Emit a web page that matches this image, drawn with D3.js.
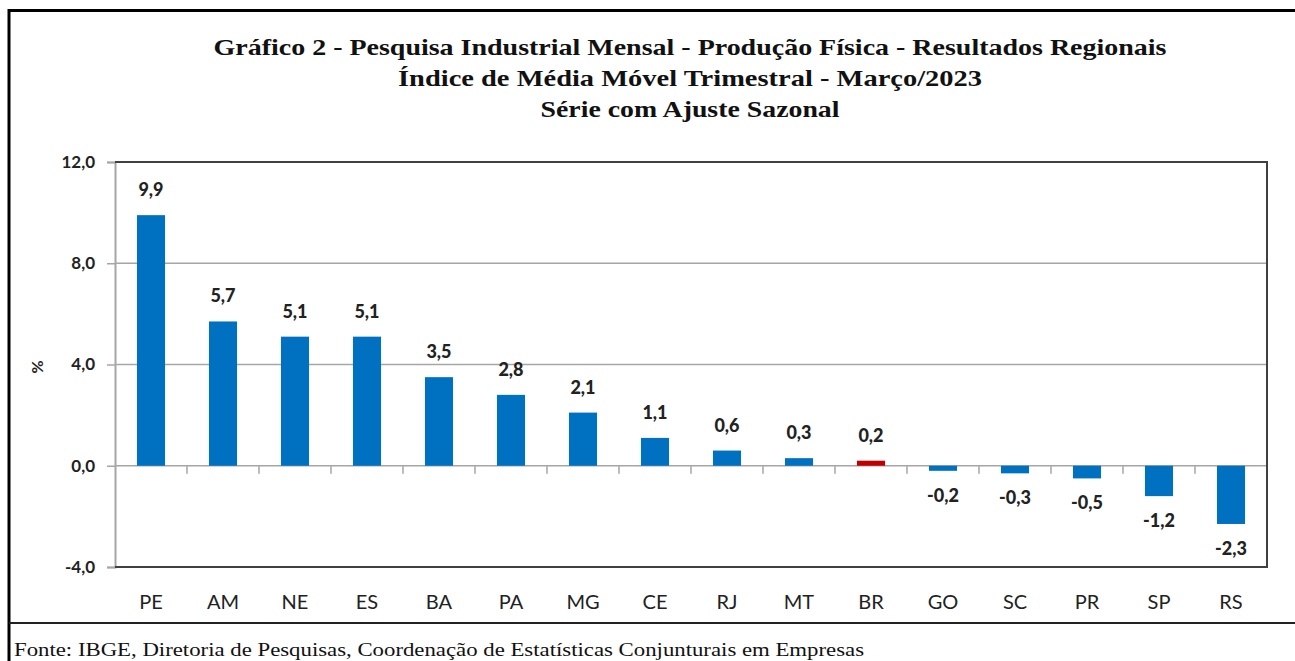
<!DOCTYPE html>
<html>
<head>
<meta charset="utf-8">
<script src="https://cdn.jsdelivr.net/npm/d3@7"></script>
<style>
  body { margin: 0; background: #fff; }
</style>
</head>
<body>
<div id="chart"></div>
<script>
let width = 1295
let height = 661

let categories = ["PE", "AM", "NE", "ES", "BA", "PA", "MG", "CE", "RJ", "MT", "BR", "GO", "SC", "PR", "SP", "RS"]
let values = [9.9, 5.7, 5.1, 5.1, 3.5, 2.8, 2.1, 1.1, 0.6, 0.3, 0.2, -0.2, -0.3, -0.5, -1.2, -2.3]
let yTicks = [-4, 0, 4, 8, 12]
let titleLines = [
  "Gráfico 2 - Pesquisa Industrial Mensal - Produção Física - Resultados Regionais",
  "Índice de Média Móvel Trimestral - Março/2023",
  "Série com Ajuste Sazonal"
]
let titleWidths = [953, 584, 299]
let source = "Fonte: IBGE, Diretoria de Pesquisas, Coordenação de Estatísticas Conjunturais em Empresas"

let data = categories.map((c, i) => ({ cat: c, value: values[i] }))

let plot = { left: 115, right: 1267, top: 162, bottom: 567 }

let svg = d3.select("#chart")
  .append("svg")
    .attr("width", width)
    .attr("height", height)

let x = d3.scaleBand()
  .domain(categories)
  .range([plot.left, plot.right])
  .paddingInner(0.61)
  .paddingOuter(0.305)

let y = d3.scaleLinear()
  .domain([-4, 12])
  .range([plot.bottom, plot.top])

let fmt = v => d3.format(".1f")(v).replace(".", ",").replace("−", "-")

// outer frame
svg.append("path")
  .attr("d", `M9,${height} V10.5 H${width}`)
  .attr("fill", "none")
  .attr("stroke", "#000")
  .attr("stroke-width", 3)
svg.append("line")
  .attr("x1", 9).attr("x2", width)
  .attr("y1", 623).attr("y2", 623)
  .attr("stroke", "#222")
  .attr("stroke-width", 2)

// title
svg.append("g")
  .selectAll("text")
  .data(titleLines)
  .enter()
  .append("text")
    .attr("x", 690)
    .attr("y", (d, i) => 55 + i * 31)
    .attr("text-anchor", "middle")
    .attr("textLength", (d, i) => titleWidths[i])
    .attr("lengthAdjust", "spacingAndGlyphs")
    .style("font-family", "'Liberation Serif', serif")
    .style("font-weight", "bold")
    .style("font-size", "23px")
    .style("fill", "#111")
    .text(d => d)

// gridlines
svg.append("g")
  .selectAll("line")
  .data(yTicks.filter(t => t != 12 && t != -4))
  .enter()
  .append("line")
    .attr("x1", plot.left).attr("x2", plot.right)
    .attr("y1", d => y(d)).attr("y2", d => y(d))
    .attr("stroke", "#a6a6a6")
    .attr("stroke-width", 1.5)

// y axis
let yAxis = svg.append("g")
  .attr("transform", `translate(${plot.left},0)`)
  .call(d3.axisLeft(y).tickValues(yTicks).tickSize(8).tickFormat(fmt))
yAxis.select(".domain").attr("stroke", "#a6a6a6").attr("stroke-width", 2)
yAxis.selectAll(".tick line").attr("stroke", "#a6a6a6").attr("stroke-width", 1.5)
yAxis.selectAll(".tick text")
  .attr("x", -20)
  .style("font-family", "Lato, sans-serif")
  .style("font-size", "17px")
  .style("font-weight", "bold")
  .style("fill", "#222")

svg.append("text")
  .attr("transform", "translate(43,367) rotate(-90)")
  .attr("text-anchor", "middle")
  .style("font-family", "Lato, sans-serif")
  .style("font-size", "16px")
  .style("font-weight", "bold")
  .style("fill", "#222")
  .text("%")

// category ticks on the zero line
svg.append("g")
  .selectAll("line")
  .data(categories.slice(1))
  .enter()
  .append("line")
    .attr("x1", d => x(d) - x.step() * x.paddingInner() / 2)
    .attr("x2", d => x(d) - x.step() * x.paddingInner() / 2)
    .attr("y1", y(0)).attr("y2", y(0) + 8)
    .attr("stroke", "#a6a6a6")
    .attr("stroke-width", 1.5)

// plot frame (top, right, bottom)
svg.append("path")
  .attr("d", `M${plot.left},${plot.top} H${plot.right} V${plot.bottom} H${plot.left}`)
  .attr("fill", "none")
  .attr("stroke", "#404040")
  .attr("stroke-width", 2)

// bars
svg.append("g")
  .selectAll("rect")
  .data(data)
  .enter()
  .append("rect")
    .attr("x", d => x(d.cat))
    .attr("width", x.bandwidth())
    .attr("y", d => y(Math.max(0, d.value)))
    .attr("height", d => Math.abs(y(d.value) - y(0)))
    .style("fill", d => d.cat == "BR" ? "#c00000" : "#0070c0")

// value labels
svg.append("g")
  .selectAll("text")
  .data(data)
  .enter()
  .append("text")
    .attr("x", d => x(d.cat) + x.bandwidth() / 2)
    .attr("y", d => d.value >= 0 ? y(d.value) - 19 : y(d.value) + 31)
    .attr("text-anchor", "middle")
    .style("font-family", "Lato, sans-serif")
    .style("font-weight", "900")
    .style("font-size", "18px")
    .style("fill", "#222")
    .text(d => fmt(d.value))

// category labels
svg.append("g")
  .selectAll("text")
  .data(categories)
  .enter()
  .append("text")
    .attr("x", d => x(d) + x.bandwidth() / 2)
    .attr("y", 609)
    .attr("text-anchor", "middle")
    .style("font-family", "Lato, sans-serif")
    .style("font-size", "20px")
    .style("fill", "#222")
    .text(d => d)

// source
svg.append("text")
  .attr("x", 14)
  .attr("y", 656)
  .attr("textLength", 850)
  .attr("lengthAdjust", "spacingAndGlyphs")
  .style("font-family", "'Liberation Serif', serif")
  .style("font-size", "18px")
  .style("fill", "#111")
  .text(source)
</script>
</body>
</html>
